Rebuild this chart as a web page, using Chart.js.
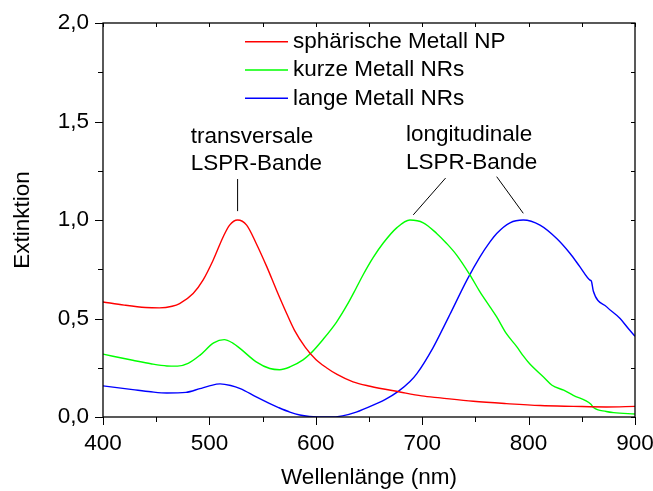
<!DOCTYPE html>
<html>
<head>
<meta charset="utf-8">
<script src="https://cdn.jsdelivr.net/npm/chart.js@4.4.0/dist/chart.umd.min.js"></script>
<style>
  body { margin: 0; background: #fff; }
  canvas { display: block; }
</style>
</head>
<body>
<canvas id="chart" width="653" height="491"></canvas>
<script>
// Wellenlänge (nm) und Extinktion
const sphWl  = [400, 420, 440, 453, 465, 472, 484.7, 494, 503.5, 513, 519, 526.5, 535, 544, 554, 563, 572.5, 580, 590, 600, 610, 620, 635, 651, 679, 699.5, 717, 748, 779, 811, 842, 873, 900];
const sphExt = [0.584, 0.568, 0.556, 0.554, 0.562, 0.576, 0.627, 0.695, 0.796, 0.915, 0.974, 1.0, 0.974, 0.881, 0.762, 0.645, 0.527, 0.44, 0.355, 0.292, 0.25, 0.216, 0.178, 0.156, 0.127, 0.107, 0.097, 0.08, 0.068, 0.058, 0.054, 0.051, 0.054];

const kurzWl  = [400, 428, 445, 460, 470, 480, 491, 504, 514, 522, 529, 544, 556.8, 566, 575.6, 588, 595, 607, 619.5, 629, 638, 644.5, 654, 663.4, 676, 688.5, 701, 713.6, 723, 732.4, 745, 754.3, 763.7, 770, 779, 789, 795, 801, 814, 822, 833, 842, 858.6, 861, 873, 880, 900];
const kurzExt = [0.319, 0.288, 0.27, 0.259, 0.258, 0.272, 0.313, 0.376, 0.393, 0.375, 0.347, 0.28, 0.246, 0.24, 0.254, 0.29, 0.322, 0.395, 0.482, 0.565, 0.655, 0.722, 0.81, 0.883, 0.96, 1.0, 0.986, 0.932, 0.881, 0.822, 0.72, 0.635, 0.559, 0.508, 0.424, 0.356, 0.31, 0.27, 0.203, 0.161, 0.136, 0.11, 0.065, 0.048, 0.028, 0.022, 0.015];

const langWl  = [400, 428, 445, 460, 478, 491, 500, 510, 520, 529, 544, 556.8, 565, 575.6, 585, 594, 613, 625, 638, 657, 665, 677.5, 688.5, 695, 710, 720, 726, 742, 754.3, 763.7, 770, 782.5, 795, 810.7, 826.4, 839, 848.3, 857.7, 859, 860.8, 873.4, 886, 893.7, 900];
const langExt = [0.158, 0.139, 0.128, 0.122, 0.125, 0.144, 0.158, 0.168, 0.16, 0.144, 0.102, 0.068, 0.048, 0.025, 0.01, 0.003, 0, 0.006, 0.025, 0.068, 0.088, 0.13, 0.18, 0.22, 0.35, 0.455, 0.52, 0.695, 0.813, 0.889, 0.932, 0.986, 1.0, 0.974, 0.906, 0.83, 0.762, 0.695, 0.69, 0.64, 0.559, 0.5, 0.449, 0.41];

const seriesLabels = ['sphärische Metall NP', 'kurze Metall NRs', 'lange Metall NRs'];
const seriesColors = ['#ff0000', '#00ff00', '#0000ff'];

// Beschriftungen im Diagramm: Text (links ausgerichtet) und Hinweislinien, in Datenkoordinaten
const noteTexts = [
    {lines: ['transversale', 'LSPR-Bande'], x: 482.5, y: [1.421, 1.284]},
    {lines: ['longitudinale', 'LSPR-Bande'], x: 684.7, y: [1.431, 1.289]}
];
const noteLines = [
    [526.5, 1.208, 526.5, 1.045],
    [722, 1.213, 691.6, 1.026],
    [770, 1.22, 795, 1.034]
];

const FONT = "'Liberation Sans', Arial, Helvetica, sans-serif";
const FSIZE = 22.5;

const toPoints = (wl, ext) => wl.map((w, i) => ({x: w, y: ext[i]}));

const framePlugin = {
    id: 'frame',
    afterDraw(chart) {
        const ctx = chart.ctx;
        const a = chart.chartArea;
        const xs = chart.scales.x;
        const ys = chart.scales.y;
        const seg = (x1, y1, x2, y2) => {
            ctx.beginPath();
            ctx.moveTo(x1, y1);
            ctx.lineTo(x2, y2);
            ctx.stroke();
        };
        ctx.save();
        ctx.strokeStyle = '#000';
        ctx.lineWidth = 1.3;
        ctx.strokeRect(a.left, a.top, a.right - a.left, a.bottom - a.top);

        ctx.lineWidth = 1;
        for (let v = 400; v <= 900; v += 50) {
            const px = Math.round(xs.getPixelForValue(v)) + 0.5;
            seg(px, a.bottom, px, a.bottom + (v % 100 === 0 ? 8 : 5));
            seg(px, a.top, px, a.top + 4);
        }
        for (let v = 0; v <= 2.001; v += 0.25) {
            const py = Math.round(ys.getPixelForValue(v)) + 0.5;
            const major = Math.abs(v * 2 - Math.round(v * 2)) < 1e-6;
            seg(a.left, py, a.left - (major ? 8 : 5), py);
            seg(a.right, py, a.right - 4, py);
        }

        // Legende
        ctx.font = FSIZE + 'px ' + FONT;
        ctx.textBaseline = 'middle';
        ctx.fillStyle = '#000';
        chart.data.datasets.forEach((ds, i) => {
            const y = a.top + 18.7 + i * 28.3;
            ctx.strokeStyle = ds.borderColor;
            ctx.lineWidth = 1.5;
            seg(245, y, 288, y);
            ctx.fillText(ds.label, 293, y);
        });

        // Anmerkungen
        ctx.textAlign = 'left';
        noteTexts.forEach(n => {
            n.lines.forEach((t, j) => {
                ctx.fillText(t, xs.getPixelForValue(n.x), ys.getPixelForValue(n.y[j]));
            });
        });
        ctx.strokeStyle = '#000';
        ctx.lineWidth = 1;
        noteLines.forEach(l => {
            seg(xs.getPixelForValue(l[0]), ys.getPixelForValue(l[1]),
                xs.getPixelForValue(l[2]), ys.getPixelForValue(l[3]));
        });
        ctx.restore();
    }
};

const ChartData = {
    datasets: [
        {label: seriesLabels[0], data: toPoints(sphWl, sphExt), borderColor: seriesColors[0]},
        {label: seriesLabels[1], data: toPoints(kurzWl, kurzExt), borderColor: seriesColors[1]},
        {label: seriesLabels[2], data: toPoints(langWl, langExt), borderColor: seriesColors[2]}
    ].map(ds => Object.assign(ds, {
        borderWidth: 1.4,
        pointRadius: 0,
        fill: false,
        cubicInterpolationMode: 'monotone'
    }))
};

const ChartConfig = {
    type: 'line',
    data: ChartData,
    options: {
        responsive: false,
        animation: false,
        devicePixelRatio: 1,
        layout: {padding: {top: 23, right: 18, left: 0, bottom: 0}},
        plugins: {
            legend: {display: false},
            tooltip: {enabled: false}
        },
        scales: {
            x: {
                type: 'linear',
                min: 400,
                max: 900,
                grid: {display: false, drawTicks: false},
                border: {display: false},
                ticks: {
                    stepSize: 100,
                    padding: 13,
                    color: '#000',
                    font: {family: FONT, size: FSIZE}
                },
                title: {
                    display: true,
                    text: 'Wellenlänge (nm)',
                    color: '#000',
                    font: {family: FONT, size: FSIZE},
                    padding: {top: 0, bottom: 0}
                },
                afterFit: s => { s.height = 74; s.paddingLeft = 0; s.paddingRight = 0; }
            },
            y: {
                type: 'linear',
                min: 0,
                max: 2,
                grid: {display: false, drawTicks: false},
                border: {display: false},
                ticks: {
                    stepSize: 0.5,
                    padding: 14,
                    color: '#000',
                    font: {family: FONT, size: FSIZE},
                    callback: v => v.toFixed(1).replace('.', ',')
                },
                title: {
                    display: true,
                    text: 'Extinktion',
                    color: '#000',
                    font: {family: FONT, size: FSIZE},
                    padding: {top: 9, bottom: 0}
                },
                afterFit: s => { s.width = 103; s.paddingTop = 0; s.paddingBottom = 0; }
            }
        }
    },
    plugins: [framePlugin]
};

new Chart(document.getElementById('chart').getContext('2d'), ChartConfig);
</script>
</body>
</html>
